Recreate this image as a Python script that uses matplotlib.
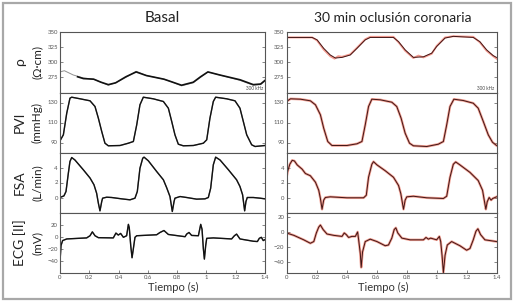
import matplotlib
matplotlib.use("Agg")
import matplotlib.pyplot as plt
from matplotlib.patches import Rectangle

plt.rcParams['font.family'] = ['Lato', 'DejaVu Sans']

# ---- Basal (left column) ----
rho_b_t_gray = [0, 0.03, 0.09, 0.16, 0.23, 0.28, 0.33, 0.38, 0.45, 0.52, 0.59, 0.71, 0.77, 0.83, 0.91, 0.96,
                1.01, 1.09, 1.23, 1.32, 1.37, 1.40]
rho_b_gray = [284, 286, 279, 274, 272, 267, 262, 266, 275, 285, 278, 272, 267, 261, 266, 275,
              284, 279, 270, 262, 263, 269]
rho_b_t = [0.12, 0.16, 0.23, 0.28, 0.33, 0.38, 0.45, 0.52, 0.59, 0.71, 0.77, 0.83, 0.91, 0.96,
           1.01, 1.09, 1.23, 1.32, 1.37, 1.40]
rho_b = [276, 273, 272, 267, 263, 266, 276, 284, 278, 272, 267, 262, 267, 276,
         284, 279, 271, 263, 264, 270]

pvi_b_t = [0, 0.023, 0.046, 0.068, 0.080, 0.137, 0.205, 0.239, 0.262, 0.285, 0.307, 0.330, 0.410, 0.467,
           0.501, 0.524, 0.546, 0.569, 0.637, 0.706, 0.740, 0.763, 0.785, 0.808, 0.842, 0.911, 0.979,
           1.002, 1.024, 1.047, 1.063, 1.138, 1.195, 1.229, 1.252, 1.275, 1.309, 1.332, 1.400]
pvi_b = [91.7, 97.7, 119.3, 134.3, 135.3, 133.7, 131.7, 126, 114.3, 101, 89.3, 86.7, 87, 89.3,
         91, 107.7, 127.7, 135.3, 133.7, 131, 124.3, 111, 97.7, 88.3, 86.7, 87, 89.3,
         92.7, 114.3, 131, 135.3, 133.7, 131.7, 124.3, 111, 97.7, 87.7, 86, 87]

fsa_b_t = [0, 0.027, 0.041, 0.057, 0.068, 0.080, 0.102, 0.159, 0.205, 0.232, 0.250, 0.262, 0.273, 0.285,
           0.291, 0.319, 0.353, 0.421, 0.478, 0.512, 0.528, 0.546, 0.565, 0.574, 0.603, 0.660, 0.706,
           0.728, 0.751, 0.767, 0.779, 0.785, 0.820, 0.865, 0.933, 0.990, 1.013, 1.029, 1.047, 1.063,
           1.093, 1.150, 1.206, 1.229, 1.247, 1.261, 1.270, 1.279, 1.320, 1.366, 1.400]
fsa_b = [0, 0.22, 0.8, 3.24, 4.8, 5.33, 5.0, 3.7, 2.6, 1.7, 0.58, -0.76, -1.78, -0.53,
         -0.09, 0.04, 0, -0.18, -0.31, -0.09, 0.8, 3.9, 5.24, 5.38, 4.9, 3.47, 2.36,
         1.33, 0.13, -1.87, -0.53, -0.09, 0.13, 0, -0.22, -0.18, 0, 1.24, 4.36, 5.38,
         5.0, 3.7, 2.36, 1.47, 0.36, -1.78, -0.53, 0, 0, -0.09, -0.18]

ecg_b_t = [0, 0.007, 0.018, 0.046, 0.182, 0.205, 0.221, 0.239, 0.262, 0.364, 0.382, 0.398, 0.414, 0.433,
           0.455, 0.467, 0.473, 0.483, 0.492, 0.501, 0.512, 0.524, 0.660, 0.683, 0.710, 0.740, 0.854,
           0.865, 0.881, 0.899, 0.945, 0.961, 0.970, 0.979, 0.986, 0.995, 1.002, 1.047, 1.172, 1.191,
           1.206, 1.229, 1.320, 1.348, 1.361, 1.375, 1.388, 1.400]
ecg_b = [-41, -14.5, -6.4, -3.7, -2, 1.6, 8, 1.6, -1.6, -2, 6, 2.7, 5.4, -1,
         1.6, 20.4, 15, -14.5, -34.8, -19.8, -1, 1.6, 3.2, 7, 10.2, 3.7, 0,
         4.3, 7, 2.1, 1.6, 20.4, 12.3, -19.8, -37, -14.5, -2.7, -2, -3.7, 1.6,
         4.3, -3.7, -7.5, -8, -2.7, -1, -6.4, -4.8]

# ---- 30 min oclusion (right column) ----
rho_o_t = [0, 0.171, 0.204, 0.248, 0.292, 0.326, 0.370, 0.425, 0.470, 0.525, 0.558, 0.713, 0.747, 0.791,
           0.846, 0.913, 0.968, 1.001, 1.057, 1.112, 1.245, 1.289, 1.334, 1.378, 1.400]
rho_o = [341, 341, 337, 323, 312, 307, 308, 312, 323, 337, 341, 341, 334, 320.5,
         308, 309, 315, 326, 340, 342.8, 341, 334, 320.5, 311, 308]
rho_o_t_red = [0, 0.171, 0.204, 0.248, 0.292, 0.320, 0.345, 0.370, 0.425, 0.470, 0.525, 0.558, 0.713,
               0.747, 0.791, 0.846, 0.880, 0.913, 0.968, 1.001, 1.057, 1.112, 1.245, 1.289, 1.334,
               1.378, 1.400]
rho_o_red = [341, 341, 336, 321, 310, 306, 310, 309, 313, 324, 338, 342, 342,
             333, 319, 307, 311, 308, 314, 327, 341, 343, 342, 333, 319, 310, 306]

pvi_o_t = [0, 0.027, 0.093, 0.159, 0.193, 0.226, 0.248, 0.275, 0.303, 0.403, 0.470, 0.503, 0.525, 0.547,
           0.569, 0.625, 0.702, 0.735, 0.764, 0.791, 0.820, 0.846, 0.935, 1.012, 1.046, 1.068, 1.090,
           1.116, 1.178, 1.245, 1.278, 1.312, 1.345, 1.373, 1.400]
pvi_o = [131, 133.7, 133.3, 131.7, 127.7, 117.7, 104.3, 91, 87, 87, 88.7, 91, 107.7, 126,
         133.3, 132.7, 130.3, 126, 114.3, 99.3, 89.3, 86.7, 86, 88.3, 91, 107.7, 126,
         133.3, 132, 129.3, 124.3, 111, 97.7, 90.3, 87]

fsa_o_t = [0, 0.009, 0.022, 0.038, 0.053, 0.071, 0.104, 0.126, 0.159, 0.193, 0.215, 0.226, 0.237, 0.248,
           0.259, 0.292, 0.403, 0.514, 0.532, 0.547, 0.569, 0.580, 0.603, 0.658, 0.713, 0.747, 0.762,
           0.780, 0.791, 0.802, 0.846, 0.935, 1.046, 1.068, 1.090, 1.112, 1.128, 1.156, 1.223, 1.278,
           1.307, 1.322, 1.329, 1.338, 1.351, 1.364, 1.375, 1.400]
fsa_o = [2.7, 3.57, 4.43, 4.96, 4.87, 4.35, 3.78, 3.2, 2.9, 2.04, 0.96, -0.13, -1.57, -0.35,
         0, 0.09, -0.04, -0.04, 0.3, 2.7, 4.43, 4.78, 4.35, 3.57, 2.7, 1.6, 0.52,
         -1.57, -0.35, 0.09, 0.17, -0.04, -0.13, 0.17, 2.7, 4.43, 4.74, 4.35, 3.35, 2.26,
         0.96, -0.78, -1.57, -0.57, 0, -0.35, -0.13, 0.09]

ecg_o_t = [0, 0.049, 0.115, 0.159, 0.182, 0.199, 0.215, 0.226, 0.244, 0.270, 0.315, 0.370, 0.385, 0.399,
           0.414, 0.436, 0.459, 0.474, 0.481, 0.492, 0.498, 0.507, 0.525, 0.558, 0.603, 0.658, 0.680,
           0.702, 0.718, 0.729, 0.742, 0.769, 0.824, 0.913, 0.930, 0.946, 0.961, 1.001, 1.019, 1.028,
           1.037, 1.046, 1.057, 1.072, 1.101, 1.156, 1.201, 1.223, 1.245, 1.263, 1.276, 1.294, 1.323,
           1.400]
ecg_o = [-1.4, -4.6, -10.6, -15.2, -12.9, -1.4, 6.5, 9.2, 3.2, -2.8, -4.6, -6, -1.4, -3.7,
         -7.4, -6, -6, 0, -10.6, -29, -47.5, -26.8, -12.9, -9.7, -12.9, -18.5, -17.5,
         -8.3, 3.2, 5.5, -1.4, -8.3, -10.6, -10.6, -7.4, -9.7, -8.3, -10.6, -6, -12.9,
         -31.4, -54.5, -31.4, -17.5, -12.9, -18.5, -24.5, -22.2, -10.6, 0.9, 4.2, -3.7, -10.6,
         -12.9]

row_labels = [("ρ", "(Ω·cm)"), ("PVI", "(mmHg)"), ("FSA", "(L/min)"), ("ECG [II]", "(mV)")]
ylims_left = [(250, 350), (80, 140), (-2, 6), (-60, 40)]
ylims_right = [(250, 350), (80, 140), (-2, 6), (-55, 26)]
yticks = [[275, 300, 325, 350], [90, 110, 130], [0, 2, 4], [-40, -20, 0, 20]]
xticks = [0, 0.2, 0.4, 0.6, 0.8, 1, 1.2, 1.4]
xtick_labels = ["0", "0.2", "0.4", "0.6", "0.8", "1", "1.2", "1.4"]

W, H = 519, 304
fig = plt.figure(figsize=(W / 100, H / 100), dpi=100)
fig.patches.append(Rectangle((3 / W, 5 / H), 508 / W, 296 / H, transform=fig.transFigure,
                             fill=False, edgecolor='#a8a8a8', linewidth=1.6))

rows_y = [32, 92.5, 152.5, 212.5, 273]
cols_x = [(60, 265), (286.5, 496.5)]


def make_ax(col, row):
    x0, x1 = cols_x[col]
    y0, y1 = rows_y[row], rows_y[row + 1]
    ax = fig.add_axes([x0 / W, 1 - y1 / H, (x1 - x0) / W, (y1 - y0) / H])
    ax.set_xlim(0, 1.4)
    lims = ylims_left if col == 0 else ylims_right
    ax.set_ylim(*lims[row])
    ax.set_yticks(yticks[row])
    ax.tick_params(direction='in', length=2, width=0.5, labelsize=4.3, labelcolor='#555555',
                   color='#555555', pad=1.5, left=True, right=True)
    if row == 3:
        ax.set_xticks(xticks)
        ax.set_xticklabels(xtick_labels)
        ax.tick_params(axis='x', top=False)
    else:
        ax.set_xticks([])
    for s in ax.spines.values():
        s.set_color('#555555')
        s.set_linewidth(0.8)
    return ax


left_data = [(rho_b_t, rho_b), (pvi_b_t, pvi_b), (fsa_b_t, fsa_b), (ecg_b_t, ecg_b)]
right_data = [(rho_o_t, rho_o), (pvi_o_t, pvi_o), (fsa_o_t, fsa_o), (ecg_o_t, ecg_o)]

for row in range(4):
    ax = make_ax(0, row)
    if row == 0:
        ax.plot(rho_b_t_gray, rho_b_gray, color='#909090', lw=0.7)
        ax.plot(*left_data[row], color='#111111', lw=1.2)
    else:
        ax.plot(*left_data[row], color='#909090', lw=0.9)
        ax.plot(*left_data[row], color='#111111', lw=1.0)
    if row == 0:
        ax.text(0.99, 0.03, "300 kHz", transform=ax.transAxes, fontsize=3.3,
                ha='right', va='bottom', color='#444444')

    ax = make_ax(1, row)
    if row == 0:
        ax.plot(rho_o_t_red, rho_o_red, color='#ee7060', lw=1.4, alpha=0.7)
    else:
        ax.plot(*right_data[row], color='#e8604a', lw=1.8, alpha=0.6)
    ax.plot(*right_data[row], color='#401515', lw=0.7)
    if row == 0:
        ax.text(0.99, 0.03, "300 kHz", transform=ax.transAxes, fontsize=3.3,
                ha='right', va='bottom', color='#444444')

# ylabels on the left column
for row, (name, unit) in enumerate(row_labels):
    yc = 1 - (rows_y[row] + rows_y[row + 1]) / 2 / H
    fig.text(20 / W, yc, name, rotation=90, ha='center', va='center', fontsize=10, color='#222222')
    fig.text(37 / W, yc, unit, rotation=90, ha='center', va='center', fontsize=8.5, color='#222222')

fig.text(162 / W, 1 - 18 / H, "Basal", ha='center', va='center', fontsize=11, color='#222222')
fig.text(393 / W, 1 - 18 / H, "30 min oclusión coronaria", ha='center', va='center', fontsize=10,
         color='#222222')
fig.text(173 / W, 1 - 287 / H, "Tiempo (s)", ha='center', va='center', fontsize=8, color='#333333')
fig.text(383 / W, 1 - 287 / H, "Tiempo (s)", ha='center', va='center', fontsize=8, color='#333333')

fig.savefig("out.png", dpi=100)
